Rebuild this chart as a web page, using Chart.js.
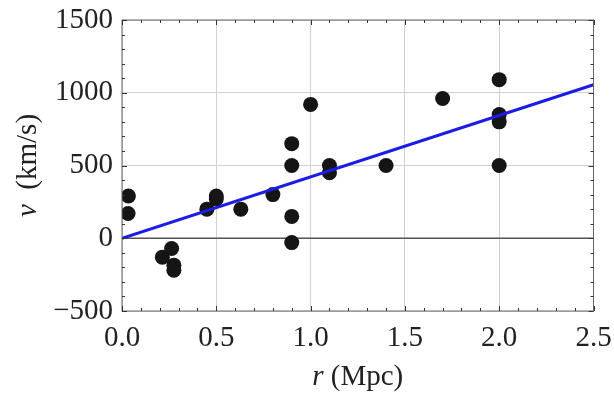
<!DOCTYPE html>
<html>
<head>
<meta charset="utf-8">
<script src="https://cdn.jsdelivr.net/npm/chart.js@4"></script>
<style>
  html, body { margin: 0; padding: 0; background: #fff; }
  #wrap { width: 614px; height: 394px; }
</style>
</head>
<body>
<div id="wrap"><canvas id="hubble"></canvas></div>
<script>
// Hubble 1929 galaxies: distance r (Mpc) and velocity v (km/s)
const distances = [0.032, 0.034, 0.214, 0.263, 0.275, 0.275, 0.45, 0.5, 0.5, 0.63, 0.8, 0.9,
                   0.9, 0.9, 0.9, 1.0, 1.1, 1.1, 1.4, 1.7, 2.0, 2.0, 2.0, 2.0];
const velocities = [170, 290, -130, -70, -185, -220, 200, 290, 270, 200, 300, -30,
                    650, 150, 500, 920, 450, 500, 500, 960, 500, 850, 800, 1090];

// fitted line endpoints
const fitR = [0, 2.5];
const fitV = [0, 1055];

const xTicks = [0, 0.5, 1.0, 1.5, 2.0, 2.5];
const yTicks = [-500, 0, 500, 1000, 1500];

const serif = '"Liberation Serif", "DejaVu Serif", serif';

// frame, inward major/minor ticks, zero line and axis titles
const framePlugin = {
    id: 'frame',
    beforeDatasetsDraw(chart) {
        const { ctx, chartArea: a, scales: { y } } = chart;
        ctx.save();
        ctx.strokeStyle = '#555';
        ctx.lineWidth = 1.5;
        const y0 = y.getPixelForValue(0);
        ctx.beginPath();
        ctx.moveTo(a.left, y0);
        ctx.lineTo(a.right, y0);
        ctx.stroke();
        ctx.restore();
    },
    afterDraw(chart) {
        const { ctx, chartArea: a, scales: { x, y } } = chart;
        ctx.save();
        ctx.strokeStyle = '#666';
        ctx.lineWidth = 1;
        ctx.strokeRect(a.left, a.top, a.right - a.left, a.bottom - a.top);

        ctx.strokeStyle = '#333';
        ctx.beginPath();
        for (let i = 0; i <= 25; i++) {
            const px = Math.round(x.getPixelForValue(i / 10)) + 0.5;
            const len = i % 5 === 0 ? 5 : 3;
            ctx.moveTo(px, a.bottom); ctx.lineTo(px, a.bottom - len);
            ctx.moveTo(px, a.top); ctx.lineTo(px, a.top + len);
        }
        for (let v = -500; v <= 1500; v += 100) {
            const py = Math.round(y.getPixelForValue(v)) + 0.5;
            const len = v % 500 === 0 ? 5 : 3;
            ctx.moveTo(a.left, py); ctx.lineTo(a.left + len, py);
            ctx.moveTo(a.right, py); ctx.lineTo(a.right - len, py);
        }
        ctx.stroke();

        // axis titles: italic variable, upright units
        ctx.fillStyle = '#222';
        ctx.textBaseline = 'alphabetic';
        const cx = (a.left + a.right) / 2;
        ctx.font = 'italic 29px ' + serif;
        const wr = ctx.measureText('r ').width;
        ctx.font = '29px ' + serif;
        const wu = ctx.measureText('(Mpc)').width;
        let sx = cx - (wr + wu) / 2;
        ctx.font = 'italic 29px ' + serif;
        ctx.fillText('r ', sx, 385);
        ctx.font = '29px ' + serif;
        ctx.fillText('(Mpc)', sx + wr, 385);

        ctx.translate(36, (a.top + a.bottom) / 2);
        ctx.rotate(-Math.PI / 2);
        ctx.font = 'italic 29px ' + serif;
        const wv = ctx.measureText('v  ').width;
        ctx.font = '29px ' + serif;
        const wk = ctx.measureText('(km/s)').width;
        sx = -(wv + wk) / 2;
        ctx.font = 'italic 29px ' + serif;
        ctx.fillText('v  ', sx, 0);
        ctx.font = '29px ' + serif;
        ctx.fillText('(km/s)', sx + wv, 0);
        ctx.restore();
    }
};

new Chart(document.getElementById('hubble'), {
    type: 'scatter',
    data: {
        datasets: [{
            label: 'Galaxies',
            data: distances.map((r, i) => ({ x: r, y: velocities[i] })),
            backgroundColor: '#151515',
            borderWidth: 0,
            pointRadius: 7.5,
            order: 1
        }, {
            label: 'Fit',
            type: 'line',
            data: fitR.map((r, i) => ({ x: r, y: fitV[i] })),
            borderColor: '#1c1ce4',
            borderWidth: 3,
            pointRadius: 0,
            fill: false,
            order: 0
        }]
    },
    options: {
        responsive: true,
        maintainAspectRatio: false,
        animation: false,
        layout: { padding: { top: 20, right: 20.5, left: 0, bottom: 0 } },
        plugins: {
            legend: { display: false },
            tooltip: { enabled: false }
        },
        scales: {
            x: {
                type: 'linear',
                min: 0,
                max: 2.5,
                afterBuildTicks: s => { s.ticks = xTicks.map(v => ({ value: v })); },
                afterFit: s => { s.height = 83; s.paddingLeft = 0; s.paddingRight = 0; },
                grid: { color: '#d2d2d2', drawTicks: false, lineWidth: 1 },
                border: { display: false },
                ticks: {
                    color: '#222',
                    padding: 10,
                    maxRotation: 0,
                    font: { family: serif, size: 29 },
                    callback: v => v.toFixed(1)
                }
            },
            y: {
                type: 'linear',
                min: -500,
                max: 1500,
                afterBuildTicks: s => { s.ticks = yTicks.map(v => ({ value: v })); },
                afterFit: s => { s.width = 122; s.paddingTop = 0; s.paddingBottom = 0; },
                grid: { color: '#d2d2d2', drawTicks: false, lineWidth: 1 },
                border: { display: false },
                ticks: {
                    color: '#222',
                    padding: 9,
                    font: { family: serif, size: 29 },
                    callback: v => v < 0 ? '\u2212' + Math.abs(v) : String(v)
                }
            }
        }
    },
    plugins: [framePlugin]
});
</script>
</body>
</html>
